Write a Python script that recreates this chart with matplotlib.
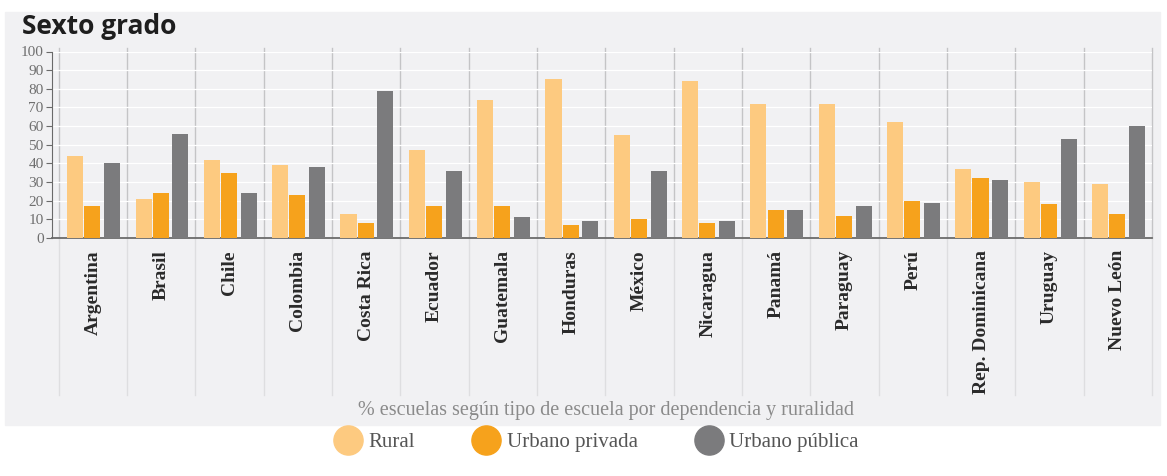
import matplotlib.pyplot as plt
from matplotlib.patches import Rectangle
from matplotlib.lines import Line2D
import numpy as np

paises = ['Argentina', 'Brasil', 'Chile', 'Colombia', 'Costa Rica', 'Ecuador',
          'Guatemala', 'Honduras', 'México', 'Nicaragua', 'Panamá', 'Paraguay',
          'Perú', 'Rep. Dominicana', 'Uruguay', 'Nuevo León']
rural = [44, 21, 42, 39, 13, 47, 74, 85, 55, 84, 72, 72, 62, 37, 30, 29]
urbano_privada = [17, 24, 35, 23, 8, 17, 17, 7, 10, 8, 15, 12, 20, 32, 18, 13]
urbano_publica = [40, 56, 24, 38, 79, 36, 11, 9, 36, 9, 15, 17, 19, 31, 53, 60]
series = ['Rural', 'Urbano privada', 'Urbano pública']
colores = ['#fdca80', '#f6a21c', '#7b7b7d']

W, H = 1167, 476
fig = plt.figure(figsize=(W / 100, H / 100), dpi=100)
fig.patch.set_facecolor('white')
# panel gris de fondo
fig.add_artist(Rectangle((5 / W, 1 - 425 / H), 1155 / W, 413 / H,
                         transform=fig.transFigure, color='#f1f1f3', zorder=-10))

ax = fig.add_axes([52 / W, 1 - 238 / H, (1152 - 52) / W, (238 - 51.5) / H])
ax.set_facecolor('none')

x = np.arange(len(paises))
ancho = 0.235
for vals, off, c in zip([rural, urbano_privada, urbano_publica], [-0.26, -0.01, 0.28], colores):
    ax.bar(x + off, vals, width=ancho, color=c, zorder=3)

ax.set_ylim(0, 100)
ax.set_xlim(-0.6, len(paises) - 0.5)
ax.set_yticks(range(0, 101, 10))
ax.yaxis.grid(True, color='white', lw=0.9, zorder=0)
ax.set_xticks([])
for s in ['top', 'right']:
    ax.spines[s].set_visible(False)
ax.spines['left'].set_color('#6a6a6a')
ax.spines['bottom'].set_color('#6a6a6a')
ax.spines['bottom'].set_linewidth(1.3)
ax.tick_params(axis='y', length=4, color='#6a6a6a', labelsize=11, labelcolor='#6f6f6f', pad=2)
for lab in ax.get_yticklabels():
    lab.set_family('Liberation Serif')

# separadores entre paises
for i in range(len(paises) + 1):
    ax.axvline(i - 0.5, ymin=0, ymax=1.02, color='#c4c4c6', lw=1, clip_on=False, zorder=1)
    ax.axvline(i - 0.5, ymin=-0.84, ymax=0, color='#dedee0', lw=1, clip_on=False, zorder=1)

tr = ax.get_xaxis_transform()
for i, p in enumerate(paises):
    ax.text(i, -0.065, p, transform=tr, rotation=90, ha='center', va='top',
            fontsize=14, fontweight='bold', family='Liberation Serif', color='#2a2a2a')

fig.text(22 / W, 1 - 27 / H, 'Sexto grado', fontsize=19, fontweight='bold',
         family='Open Sans', color='#1e1e1e', va='center', ha='left')
fig.text(606 / W, 1 - 410 / H, '% escuelas según tipo de escuela por dependencia y ruralidad',
         fontsize=14.5, family='Liberation Serif', color='#8a8a8a', ha='center', va='center')

handles = [Line2D([], [], marker='o', ls='none', markersize=21, color=c) for c in colores]
leg = fig.legend(handles, series, loc='center', bbox_to_anchor=(596 / W, 1 - 442 / H), ncol=3,
                 frameon=False, handletextpad=0.3, columnspacing=2.7, handlelength=1.4,
                 prop={'family': 'Liberation Serif', 'size': 15})
for t in leg.get_texts():
    t.set_color('#555555')

fig.savefig('out.png', dpi=100)
